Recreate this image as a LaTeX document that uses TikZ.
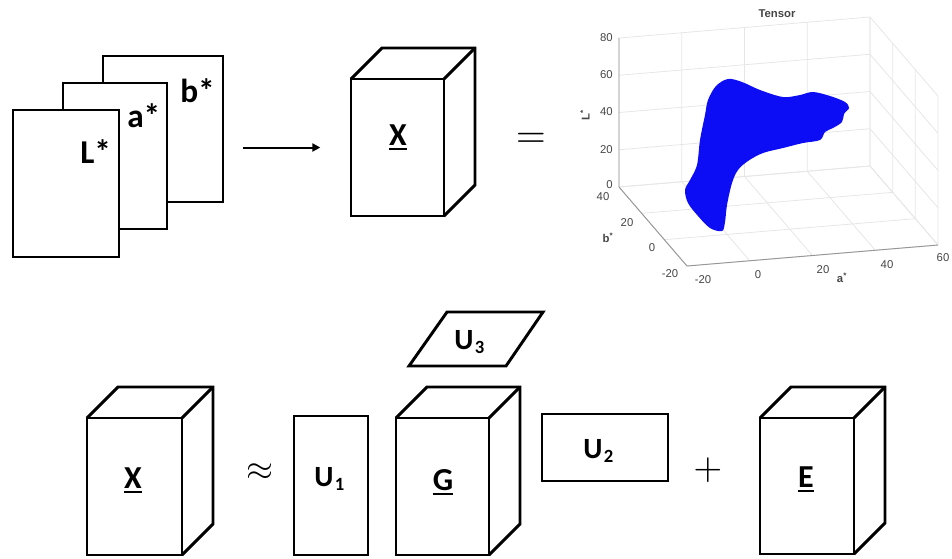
\documentclass[tikz,border=0pt]{standalone}
\usepackage{fontspec}
\setmainfont{Carlito}
\newfontfamily\plotfont{Liberation Sans}
\usepackage{graphicx}
\usetikzlibrary{arrows.meta}
\newcommand\ulbar[1]{\setbox0\hbox{#1}\rlap{\rule[-0.17em]{\wd0}{0.085em}}\box0}
\newcommand\usub[1]{\kern1pt\raisebox{-3.5pt}{\fontsize{14}{14}\selectfont #1}}
\definecolor{blobc}{RGB}{12,12,245}
\definecolor{gridc}{RGB}{230,230,230}
\definecolor{axisc}{RGB}{150,150,150}
\definecolor{tickc}{RGB}{70,70,70}
\begin{document}
\begin{tikzpicture}[x=0.75pt,y=-0.75pt,
  page/.style={draw,line width=1.9pt,fill=white,inner sep=0pt,outer sep=0pt},
  face/.style={draw,line width=2.2pt,fill=white,inner sep=0pt,outer sep=0pt},
  edge/.style={line width=2.2pt},
  pagetxt/.style={font=\fontsize{25}{25}\selectfont\bfseries,inner sep=0pt,anchor=base west},
  ulab/.style={font=\fontsize{24}{24}\selectfont\bfseries,inner sep=0pt,anchor=base},
  ulabu/.style={font=\fontsize{22}{22}\selectfont\bfseries,inner sep=0pt,anchor=base west},
  sym/.style={inner sep=0pt},
  gridl/.style={draw=gridc,line width=0.6pt},
  axisl/.style={draw=axisc,line width=0.7pt},
  tick/.style={font=\plotfont\fontsize{8.5}{9}\selectfont,text=tickc,inner sep=0pt},
  axlab/.style={font=\plotfont\fontsize{8.5}{9}\selectfont\bfseries,text=tickc,inner sep=0pt}
]
\path[use as bounding box] (0,0) rectangle (952,558);

% ---------- stacked pages ----------
\node[page,minimum width=90pt,minimum height=109.5pt] (pb) at (163,129) {};
\node[page,minimum width=78pt,minimum height=109.5pt] (pa) at (115,156) {};
\node[page,minimum width=79.5pt,minimum height=110.25pt] (pl) at (66,183.5) {};
\node[pagetxt] (tb) at (180,102) {b*};
\node[pagetxt] (ta) at (127,127) {a*};
\node[pagetxt] (tl) at (80,163) {L*};

% ---------- top cube X ----------
\node[face,minimum width=69.75pt,minimum height=102.75pt] (cx) at (397.5,147.5) {};
\draw[edge] (cx.north west) -- ++(31,-31) -| ([shift={(31,-31)}]cx.south east) -- (cx.south east);
\draw[edge] (cx.north east) -- ++(31,-31);
\node[ulab] (lcx) at (398,145) {\ulbar{X}};

% arrow
\draw[line width=1.5pt,-{Triangle[length=6pt,width=6pt]},shorten <=15pt,shorten >=23pt]
  (pb.east |- cx.west) -- (cx.west);

% equals
\node[sym] (eq) at (531,140) {\scalebox{2.9}{$=$}};

% ---------- scatter plot ----------
\begin{scope}[shift={(727.08,234.42)},x={(2.3531pt,0.1969pt)},y={(-0.85pt,0.9875pt)},z={(0pt,1.3969pt)}]
  \foreach \a in {-20,0,20,40,60} {\draw[gridl] (\a,-20,0) -- (\a,40,0) -- (\a,40,80);}
  \foreach \b in {-20,0,20,40} {\draw[gridl] (-20,\b,0) -- (60,\b,0) -- (60,\b,80);}
  \foreach \l in {0,20,40,60,80} {\draw[gridl] (-20,40,\l) -- (60,40,\l) -- (60,-20,\l);}
  \draw[axisl] (-20,40,80) -- (-20,40,0) -- (-20,-20,0) -- (60,-20,0);
\end{scope}

\fill[blobc] plot[smooth cycle,tension=0.55] coordinates {
 (722,231) (710,228) (698,216) (688,203) (685,190) (690,180) (697,165)
 (700,140) (705,115) (708,100) (716,86) (728,79) (742,82) (760,90)
 (783,97) (800,95) (813,92) (830,96) (845,102) (849,108) (844,114)
 (842,122) (833,128) (825,132) (820,140) (803,143) (783,148) (763,153)
 (748,161) (738,170) (732,183) (727,205) (725,222)};

\node[axlab] (ttl) at (777,14) {Tensor};
\foreach \v/\yy in {80/38,60/75,40/112,20/150,0/185}
  {\node[tick,anchor=east] (lt\v) at (613,\yy) {\v};}
\foreach \v/\xx/\yy in {40/603/197,20/627/223,0/652/248,-20/670/274}
  {\node[tick] (bt\v) at (\xx,\yy) {\v};}
\foreach \v/\xx/\yy in {-20/703/280,0/758/275,20/823/270,40/887/265,60/943/258}
  {\node[tick] (at\v) at (\xx,\yy) {\v};}
\node[axlab,rotate=90] (lL) at (585,115) {L\textsuperscript{*}};
\node[axlab] (lb) at (608,238) {b\textsuperscript{*}};
\node[axlab] (la) at (842,278) {a\textsuperscript{*}};

% ---------- bottom row ----------
\node[face,minimum width=71.25pt,minimum height=102.75pt] (bx) at (134.5,486.5) {};
\draw[edge] (bx.north west) -- ++(31,-31) -| ([shift={(31,-31)}]bx.south east) -- (bx.south east);
\draw[edge] (bx.north east) -- ++(31,-31);
\node[ulab] (lbx) at (133,488) {\ulbar{X}};

\node[sym] (apx) at (260,472) {\scalebox{2.6}{$\approx$}};

\node[face,minimum width=55.5pt,minimum height=104.25pt] (u1) at (331,485.5) {};
\node[ulabu] (lu1) at (314,486) {U\usub{1}};

\node[face,minimum width=69.75pt,minimum height=102.75pt] (g) at (442.5,486.5) {};
\draw[edge] (g.north west) -- ++(31,-31) -| ([shift={(31,-31)}]g.south east) -- (g.south east);
\draw[edge] (g.north east) -- ++(31,-31);
\node[ulab] (lg) at (443,490) {\ulbar{G}};

\draw[edge,line join=miter] (447,312) -- (543,312) -- (506,366) -- (409,366) -- cycle;
\node[ulabu] (lu3) at (454,349) {U\usub{3}};

\node[face,minimum width=94.5pt,minimum height=50.25pt] (u2) at (605,447.5) {};
\node[ulabu] (lu2) at (583,458) {U\usub{2}};

\node[sym] (plus) at (708,470) {\scalebox{2.8}{$+$}};

\node[face,minimum width=70.5pt,minimum height=102pt] (e) at (807,486) {};
\draw[edge] (e.north west) -- ++(31,-31) -| ([shift={(31,-31)}]e.south east) -- (e.south east);
\draw[edge] (e.north east) -- ++(31,-31);
\node[ulab] (le) at (806,487) {\ulbar{E}};
\end{tikzpicture}
\end{document}
